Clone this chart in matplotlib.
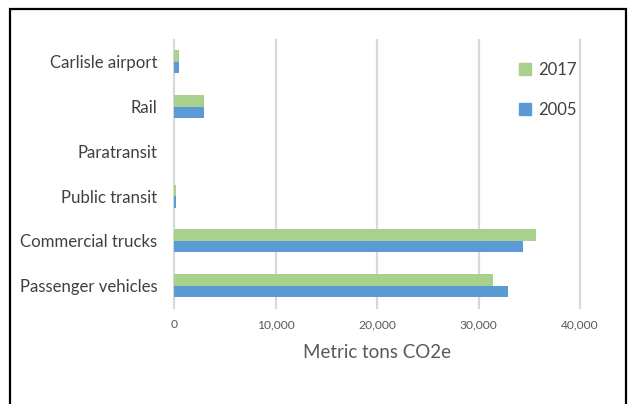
import matplotlib.pyplot as plt
from matplotlib.patches import Rectangle, Patch

plt.rcParams['font.family'] = ['Lato', 'DejaVu Sans']

categories = ['Passenger vehicles', 'Commercial trucks', 'Public transit',
              'Paratransit', 'Rail', 'Carlisle airport']
y2005 = [32900, 34350, 200, 20, 2930, 480]
y2017 = [31400, 35700, 150, 10, 2930, 470]
xticks = [0, 10000, 20000, 30000, 40000]
xticklabels = ['0', '10,000', '20,000', '30,000', '40,000']

green = '#A9D18E'
blue = '#5B9BD5'

fig = plt.figure(figsize=(6.31, 4.04), dpi=100)
ax = fig.add_axes([174/631, 1-308/404, (580-174)/631, (308-39.6)/404])

h = 0.257
pos = list(range(len(categories)))
ax.barh([p + h/2 for p in pos], y2017, height=h, color=green, zorder=3)
ax.barh([p - h/2 for p in pos], y2005, height=h, color=blue, zorder=3)

ax.set_ylim(-0.5, len(categories) - 0.5)
ax.set_xlim(0, 40000)
ax.set_yticks(pos)
ax.set_yticklabels(categories, fontsize=12.1, color='#404040')
ax.set_xticks(xticks)
ax.set_xticklabels(xticklabels, fontsize=8.7, color='#595959')
ax.tick_params(axis='both', length=0, pad=8)
ax.tick_params(axis='y', pad=12)
for x in xticks:
    ax.axvline(x, color='#d9d9d9', lw=1.6, zorder=1, clip_on=False)
for s in ax.spines.values():
    s.set_visible(False)
ax.set_xlabel('Metric tons CO2e', fontsize=13.5, color='#595959', labelpad=10)

handles = [Patch(color=green, label='2017'), Patch(color=blue, label='2005')]
fig.legend(handles=handles, loc='upper left', bbox_to_anchor=(504/631, 1-47/404),
           frameon=False, fontsize=12, labelcolor='#404040',
           handlelength=0.75, handleheight=0.75, handletextpad=0.4,
           labelspacing=1.45)

fig.patches.append(Rectangle((10/631, -0.1), 616/631, 1.1 - 9/404,
                             transform=fig.transFigure, fill=False,
                             edgecolor='black', lw=1.6))

fig.savefig('out.png', dpi=100)
